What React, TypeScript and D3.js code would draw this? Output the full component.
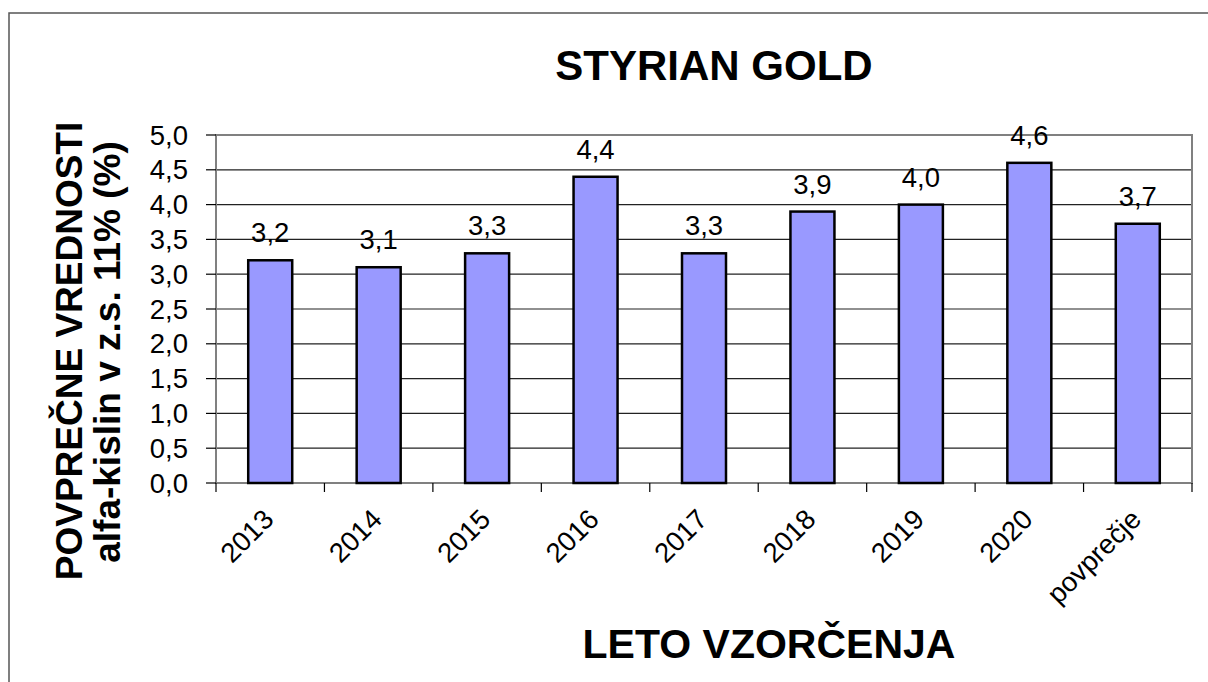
import React, { useEffect, useRef } from 'react';
import * as d3 from 'd3';

const categories = ['2013', '2014', '2015', '2016', '2017', '2018', '2019', '2020', 'povprečje'];
const values = [3.2, 3.1, 3.3, 4.4, 3.3, 3.9, 4.0, 4.6, 3.725];
const yTicks = [0, 0.5, 1, 1.5, 2, 2.5, 3, 3.5, 4, 4.5, 5];

const fmt = (v: number) => v.toFixed(1).replace('.', ',');

function App() {
  const ref = useRef<SVGSVGElement | null>(null);

  useEffect(() => {
    const W = 1208;
    const H = 682;
    const plot = { left: 216, right: 1192, top: 135, bottom: 483 };
    const font = 'Arial, "Liberation Sans", sans-serif';

    const svg = d3.select(ref.current);
    svg.selectAll('*').remove();

    svg.append('rect').attr('width', W).attr('height', H).attr('fill', '#fff');

    // outer chart border
    svg
      .append('rect')
      .attr('x', 9)
      .attr('y', 13)
      .attr('width', W + 20)
      .attr('height', H + 20)
      .attr('fill', 'none')
      .attr('stroke', '#555')
      .attr('stroke-width', 1.5);

    const x = d3.scaleBand().domain(categories).range([plot.left, plot.right]).paddingInner(0).paddingOuter(0);
    const y = d3.scaleLinear().domain([0, 5]).range([plot.bottom, plot.top]);

    // gridlines
    svg
      .append('g')
      .selectAll('line')
      .data(yTicks.filter((t) => t > 0 && t < 5))
      .enter()
      .append('line')
      .attr('x1', plot.left)
      .attr('x2', plot.right)
      .attr('y1', (d) => y(d))
      .attr('y2', (d) => y(d))
      .attr('stroke', '#222')
      .attr('stroke-width', 1.2);

    // plot area border
    svg
      .append('rect')
      .attr('x', plot.left)
      .attr('y', plot.top)
      .attr('width', plot.right - plot.left)
      .attr('height', plot.bottom - plot.top)
      .attr('fill', 'none')
      .attr('stroke', '#808080')
      .attr('stroke-width', 2);

    // y ticks + labels
    const yg = svg.append('g');
    yg.selectAll('line')
      .data(yTicks)
      .enter()
      .append('line')
      .attr('x1', plot.left - 10)
      .attr('x2', plot.left)
      .attr('y1', (d) => y(d))
      .attr('y2', (d) => y(d))
      .attr('stroke', '#000')
      .attr('stroke-width', 1.2);
    yg.selectAll('text')
      .data(yTicks)
      .enter()
      .append('text')
      .attr('x', 188)
      .attr('y', (d) => y(d) + 9.5)
      .attr('text-anchor', 'end')
      .attr('font-family', font)
      .attr('font-size', 27.5)
      .text((d) => fmt(d));

    // x ticks at category boundaries
    const bounds = categories.map((c) => x(c) as number).concat([plot.right]);
    svg
      .append('g')
      .selectAll('line')
      .data(bounds)
      .enter()
      .append('line')
      .attr('x1', (d) => d)
      .attr('x2', (d) => d)
      .attr('y1', plot.bottom)
      .attr('y2', plot.bottom + 9)
      .attr('stroke', '#000')
      .attr('stroke-width', 1.2);

    // bars
    const bw = 44;
    svg
      .append('g')
      .selectAll('rect')
      .data(values)
      .enter()
      .append('rect')
      .attr('x', (d, i) => (x(categories[i]) as number) + x.bandwidth() / 2 - bw / 2)
      .attr('y', (d) => y(d))
      .attr('width', bw)
      .attr('height', (d) => plot.bottom - y(d))
      .attr('fill', '#9999FF')
      .attr('stroke', '#000')
      .attr('stroke-width', 2.5);

    // value labels
    svg
      .append('g')
      .selectAll('text')
      .data(values)
      .enter()
      .append('text')
      .attr('x', (d, i) => (x(categories[i]) as number) + x.bandwidth() / 2)
      .attr('y', (d) => y(d) - 18)
      .attr('text-anchor', 'middle')
      .attr('font-family', font)
      .attr('font-size', 27.5)
      .text((d) => fmt(d));

    // x category labels, rotated
    svg
      .append('g')
      .selectAll('text')
      .data(categories)
      .enter()
      .append('text')
      .attr('transform', (d) => `translate(${(x(d) as number) + x.bandwidth() / 2 + 5},${plot.bottom + 38}) rotate(-45)`)
      .attr('text-anchor', 'end')
      .attr('font-family', font)
      .attr('font-size', 27.5)
      .text((d) => d);

    // titles
    svg
      .append('text')
      .attr('x', 714)
      .attr('y', 80)
      .attr('text-anchor', 'middle')
      .attr('font-family', font)
      .attr('font-weight', 'bold')
      .attr('font-size', 42)
      .text('STYRIAN GOLD');

    svg
      .append('text')
      .attr('x', 769)
      .attr('y', 658)
      .attr('text-anchor', 'middle')
      .attr('font-family', font)
      .attr('font-weight', 'bold')
      .attr('font-size', 41)
      .text('LETO VZORČENJA');

    svg
      .append('text')
      .attr('transform', 'translate(82,351) rotate(-90)')
      .attr('text-anchor', 'middle')
      .attr('font-family', font)
      .attr('font-weight', 'bold')
      .attr('font-size', 37)
      .text('POVPREČNE VREDNOSTI');

    svg
      .append('text')
      .attr('transform', 'translate(120,352) rotate(-90)')
      .attr('text-anchor', 'middle')
      .attr('font-family', font)
      .attr('font-weight', 'bold')
      .attr('font-size', 37)
      .text('alfa-kislin v z.s. 11% (%)');
  }, []);

  return <svg ref={ref} width={1208} height={682} style={{ position: 'absolute', left: 0, top: 0 }}></svg>;
}

export default App;
